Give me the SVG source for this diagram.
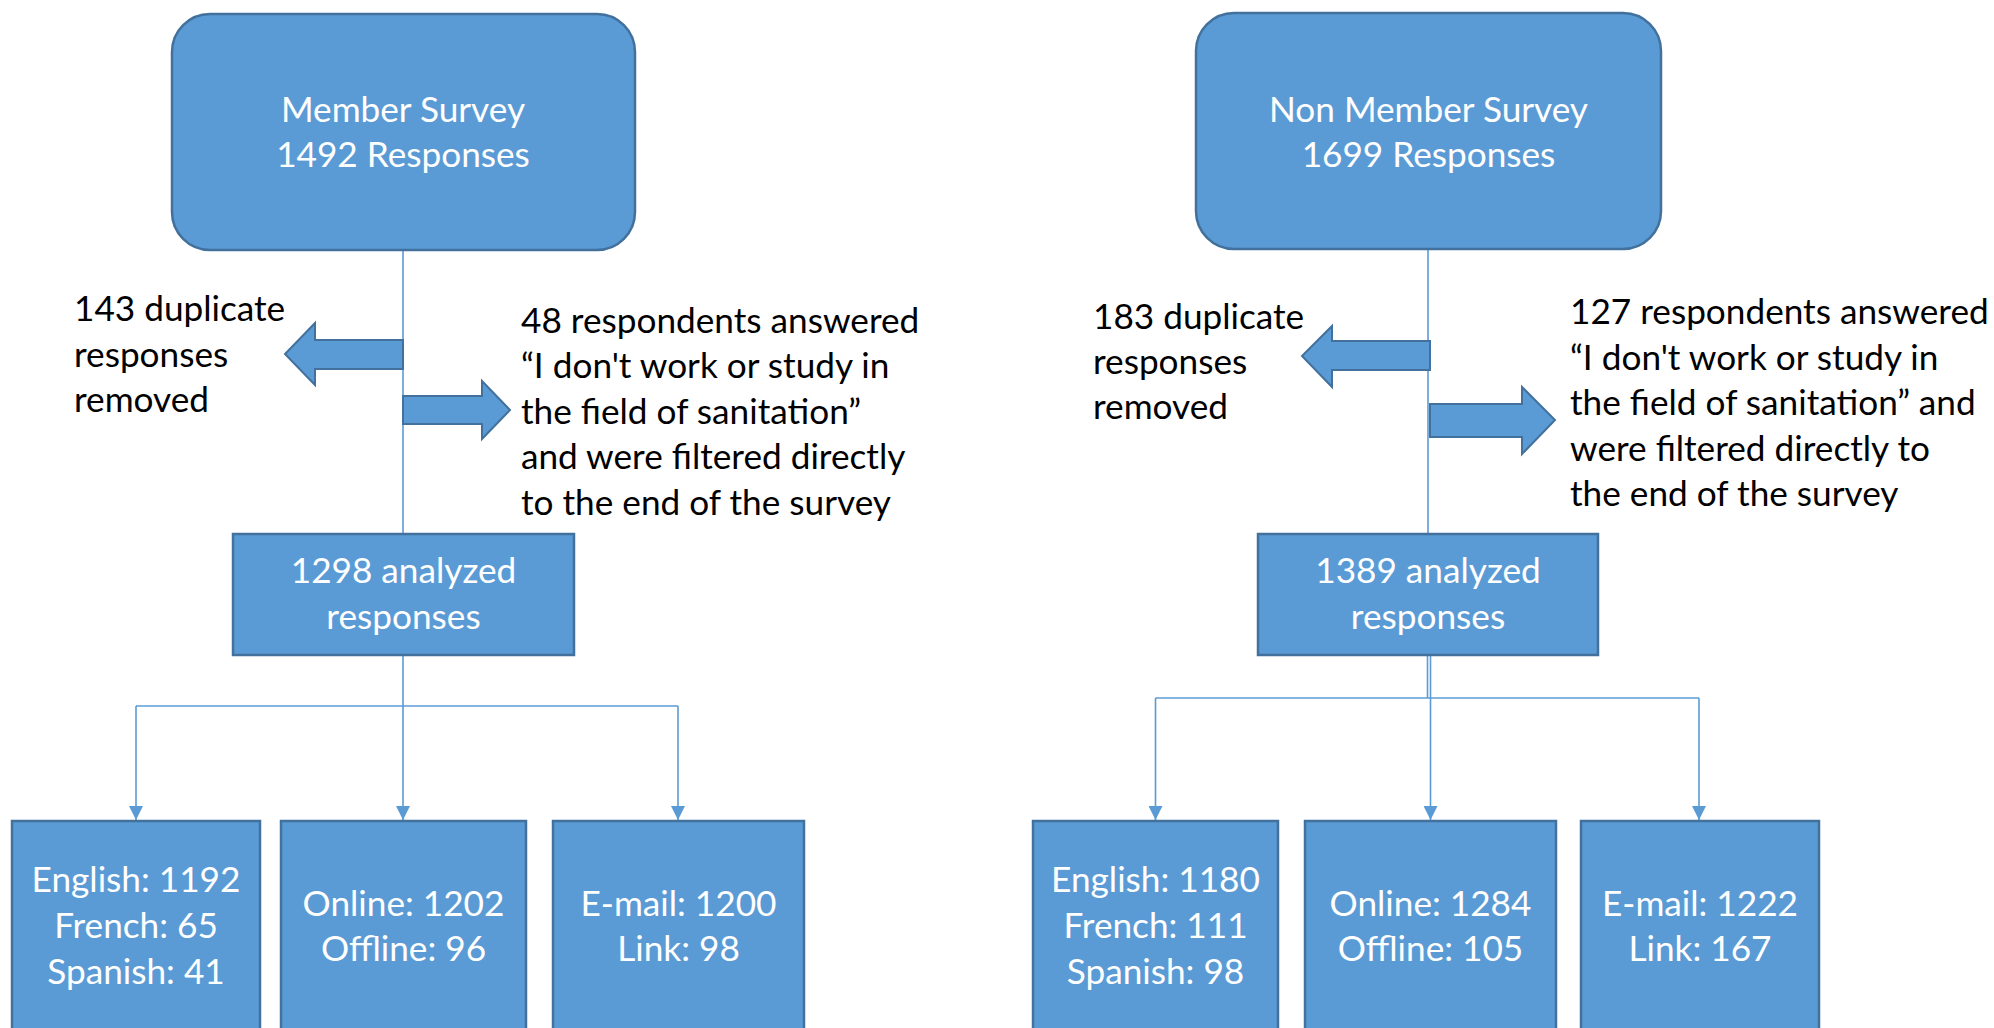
<svg xmlns="http://www.w3.org/2000/svg" width="1994" height="1028" viewBox="0 0 1994 1028">
<style>
.box{fill:#5B9BD5;stroke:#41719C;stroke-width:2.5}
.arr{fill:#5B9BD5;stroke:#41719C;stroke-width:2}
.con{fill:none;stroke:#5B9BD5;stroke-width:1.6}
text{font-family:Lato,"Open Sans","Liberation Sans",sans-serif;font-size:35.2px}
.w{fill:#ffffff;text-anchor:middle}
.k{fill:#000000}
</style>
<defs>
<marker id="ah" markerUnits="userSpaceOnUse" markerWidth="14" markerHeight="14" refX="14" refY="7" orient="auto">
<path d="M0,0 L14,7 L0,14 z" fill="#5B9BD5"/>
</marker>
</defs>
<rect width="1994" height="1028" fill="#ffffff"/>
<g id="connectors">
<line class="con" x1="403" y1="250" x2="403" y2="534"/>
<line class="con" x1="403" y1="656" x2="403" y2="706"/>
<line class="con" x1="136" y1="706" x2="678" y2="706"/>
<line class="con" x1="136" y1="706" x2="136" y2="820" marker-end="url(#ah)"/>
<line class="con" x1="403" y1="706" x2="403" y2="820" marker-end="url(#ah)"/>
<line class="con" x1="678" y1="706" x2="678" y2="820" marker-end="url(#ah)"/>
<line class="con" x1="1428" y1="249" x2="1428" y2="534"/>
<line class="con" x1="1427.5" y1="656" x2="1427.5" y2="698"/>
<line class="con" x1="1155.5" y1="698" x2="1699" y2="698"/>
<line class="con" x1="1155.5" y1="698" x2="1155.5" y2="820" marker-end="url(#ah)"/>
<line class="con" x1="1430.5" y1="656" x2="1430.5" y2="820" marker-end="url(#ah)"/>
<line class="con" x1="1699" y1="698" x2="1699" y2="820" marker-end="url(#ah)"/>
</g>
<g id="member-survey">
<rect class="box" x="172" y="14" width="463" height="236" rx="38" ry="38"/>
<text class="w" x="403" y="122">Member Survey</text>
<text class="w" x="403" y="167">1492 Responses</text>
</g>
<g id="member-duplicates">
<polygon class="arr" points="403,340 315,340 315,323 285,354 315,385 315,369 403,369"/>
<text class="k" x="74" y="321">143 duplicate</text>
<text class="k" x="74" y="367">responses</text>
<text class="k" x="74" y="412">removed</text>
</g>
<g id="member-filtered">
<polygon class="arr" points="403,396 482,396 482,381 510,410 482,439 482,424 403,424"/>
<text class="k" x="521" y="333">48 respondents answered</text>
<text class="k" x="521" y="378">“I don't work or study in</text>
<text class="k" x="521" y="424">the field of sanitation”</text>
<text class="k" x="521" y="469">and were filtered directly</text>
<text class="k" x="521" y="515">to the end of the survey</text>
</g>
<g id="member-analyzed">
<rect class="box" x="233" y="534" width="341" height="121"/>
<text class="w" x="403.5" y="583">1298 analyzed</text>
<text class="w" x="403.5" y="629">responses</text>
</g>
<g id="member-language">
<rect class="box" x="12" y="821" width="248" height="230"/>
<text class="w" x="136" y="892">English: 1192</text>
<text class="w" x="136" y="938">French: 65</text>
<text class="w" x="136" y="984">Spanish: 41</text>
</g>
<g id="member-mode">
<rect class="box" x="281" y="821" width="245" height="230"/>
<text class="w" x="403.5" y="916">Online: 1202</text>
<text class="w" x="403.5" y="961">Offline: 96</text>
</g>
<g id="member-channel">
<rect class="box" x="553" y="821" width="251" height="230"/>
<text class="w" x="678.5" y="916">E-mail: 1200</text>
<text class="w" x="678.5" y="961">Link: 98</text>
</g>
<g id="nonmember-survey">
<rect class="box" x="1196" y="13" width="465" height="236" rx="38" ry="38"/>
<text class="w" x="1428.5" y="122">Non Member Survey</text>
<text class="w" x="1428.5" y="167">1699 Responses</text>
</g>
<g id="nonmember-duplicates">
<polygon class="arr" points="1430,341 1332,341 1332,326 1302,356 1332,387 1332,370 1430,370"/>
<text class="k" x="1093" y="329">183 duplicate</text>
<text class="k" x="1093" y="374">responses</text>
<text class="k" x="1093" y="419">removed</text>
</g>
<g id="nonmember-filtered">
<polygon class="arr" points="1430,404 1522,404 1522,387 1555,420 1522,454 1522,437 1430,437"/>
<text class="k" x="1570" y="324">127 respondents answered</text>
<text class="k" x="1570" y="370">“I don't work or study in</text>
<text class="k" x="1570" y="415">the field of sanitation” and</text>
<text class="k" x="1570" y="461">were filtered directly to</text>
<text class="k" x="1570" y="506">the end of the survey</text>
</g>
<g id="nonmember-analyzed">
<rect class="box" x="1258" y="534" width="340" height="121"/>
<text class="w" x="1428" y="583">1389 analyzed</text>
<text class="w" x="1428" y="629">responses</text>
</g>
<g id="nonmember-language">
<rect class="box" x="1033" y="821" width="245" height="230"/>
<text class="w" x="1155.5" y="892">English: 1180</text>
<text class="w" x="1155.5" y="938">French: 111</text>
<text class="w" x="1155.5" y="984">Spanish: 98</text>
</g>
<g id="nonmember-mode">
<rect class="box" x="1305" y="821" width="251" height="230"/>
<text class="w" x="1430.5" y="916">Online: 1284</text>
<text class="w" x="1430.5" y="961">Offline: 105</text>
</g>
<g id="nonmember-channel">
<rect class="box" x="1581" y="821" width="238" height="230"/>
<text class="w" x="1700" y="916">E-mail: 1222</text>
<text class="w" x="1700" y="961">Link: 167</text>
</g>
</svg>
